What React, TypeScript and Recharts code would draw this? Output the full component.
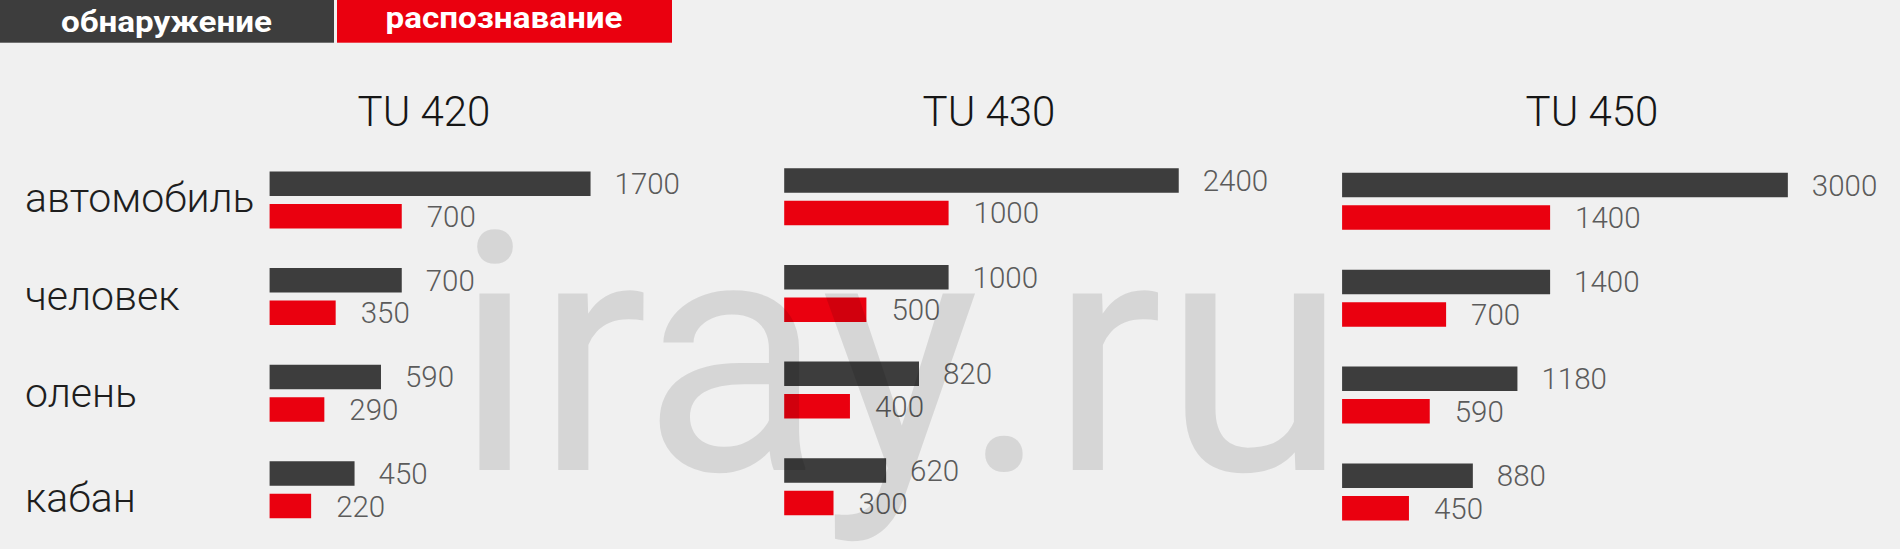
import { Bar, BarChart, LabelList, XAxis, YAxis } from "recharts";

// Detection (dark) vs recognition (red) distance, metres, per thermal camera model.
const CATEGORIES = ["автомобиль", "человек", "олень", "кабан"];
const MODELS = ["TU 420", "TU 430", "TU 450"];
const LEGEND = ["обнаружение", "распознавание"];

const TU420_DETECT = [1700, 700, 590, 450];
const TU420_RECOG = [700, 350, 290, 220];
const TU430_DETECT = [2400, 1000, 820, 620];
const TU430_RECOG = [1000, 500, 400, 300];
const TU450_DETECT = [3000, 1400, 1180, 880];
const TU450_RECOG = [1400, 700, 590, 450];

const DARK = "#3d3d3d";
const RED = "#ea000f";
const BG = "#f0f0f0";
const FONT = "Roboto, 'Noto Sans', sans-serif";

// the category names in the source are not quite centred on their bar pairs
const TICK_NUDGE = [0, 1, 2, 10];

const rows = (detect: number[], recog: number[]) =>
  CATEGORIES.map((name, i) => ({ name, detect: detect[i], recog: recog[i] }));

// layout per panel: where the plot starts, how wide, and what value fills that width
const PANELS = [
  { title: MODELS[0], data: rows(TU420_DETECT, TU420_RECOG), plotLeft: 269.6, plotWidth: 377.6, max: 2000, top: 151.5, bandH: 96.6, cx: 424 },
  { title: MODELS[1], data: rows(TU430_DETECT, TU430_RECOG), plotLeft: 784.2, plotWidth: 460.3, max: 2800, top: 148.2, bandH: 96.7, cx: 989 },
  { title: MODELS[2], data: rows(TU450_DETECT, TU450_RECOG), plotLeft: 1342.1, plotWidth: 505.2, max: 3400, top: 152.8, bandH: 96.9, cx: 1592 },
];

function CategoryTick({ y, payload, index }: { y?: number; payload?: { value: string }; index?: number }) {
  return (
    <text
      x={25}
      y={(y ?? 0) + (TICK_NUDGE[index ?? 0] ?? 0)}
      dy="0.3em"
      textAnchor="start"
      fontSize={41}
      fontWeight={300}
      fill="#1e1e1e"
      fontFamily={FONT}
    >
      {payload?.value}
    </text>
  );
}

function Panel({ p, showCategories }: { p: (typeof PANELS)[number]; showCategories: boolean }) {
  const plotH = p.bandH * CATEGORIES.length;
  const width = p.plotLeft + p.plotWidth + 120;
  const labelStyle = { fill: "#5b5b5b", fontSize: 29.5, fontWeight: 300, fontFamily: FONT };
  return (
    <div style={{ position: "absolute", left: 0, top: 0 }}>
      <BarChart
        width={width}
        height={p.top + plotH + 4}
        data={p.data}
        layout="vertical"
        barSize={24.5}
        barGap={8}
        margin={{ top: p.top, right: 120, bottom: 4, left: showCategories ? 0 : p.plotLeft }}
      >
        <XAxis type="number" domain={[0, p.max]} hide />
        <YAxis
          type="category"
          dataKey="name"
          hide={!showCategories}
          width={showCategories ? p.plotLeft : 0}
          axisLine={false}
          tickLine={false}
          interval={0}
          tick={<CategoryTick />}
        />
        <Bar dataKey="detect" fill={DARK} isAnimationActive={false}>
          <LabelList dataKey="detect" position="right" offset={24} style={labelStyle} />
        </Bar>
        <Bar dataKey="recog" fill={RED} isAnimationActive={false}>
          <LabelList dataKey="recog" position="right" offset={25} style={labelStyle} />
        </Bar>
      </BarChart>
    </div>
  );
}

export default function App() {
  return (
    <div style={{ position: "absolute", left: 0, top: 0, width: 1900, height: 549, background: BG, overflow: "hidden" }}>
      {PANELS.map((p, i) => (
        <Panel key={p.title} p={p} showCategories={i === 0} />
      ))}
      <svg width={1900} height={549} style={{ position: "absolute", left: 0, top: 0, pointerEvents: "none" }}>
        <rect x={0} y={0} width={334} height={42.7} fill={DARK} />
        <rect x={337} y={0} width={335} height={42.7} fill={RED} />
        <text x={166.5} y={32} textAnchor="middle" fontSize={30} fontWeight={700} fill="#fff" fontFamily={FONT} textLength={211} lengthAdjust="spacingAndGlyphs">
          {LEGEND[0]}
        </text>
        <text x={504} y={28} textAnchor="middle" fontSize={30} fontWeight={700} fill="#fff" fontFamily={FONT} textLength={237} lengthAdjust="spacingAndGlyphs">
          {LEGEND[1]}
        </text>
        {PANELS.map((p) => (
          <text key={p.title} x={p.cx} y={126} textAnchor="middle" fontSize={42} fontWeight={300} fill="#161616" fontFamily={FONT}>
            {p.title}
          </text>
        ))}
        {/* watermark sits over the bars, darkening whatever it crosses */}
        <text x={454} y={470} fontSize={334} fontFamily={FONT} fill="#000" fillOpacity={0.105}>
          iray.ru
        </text>
      </svg>
    </div>
  );
}
